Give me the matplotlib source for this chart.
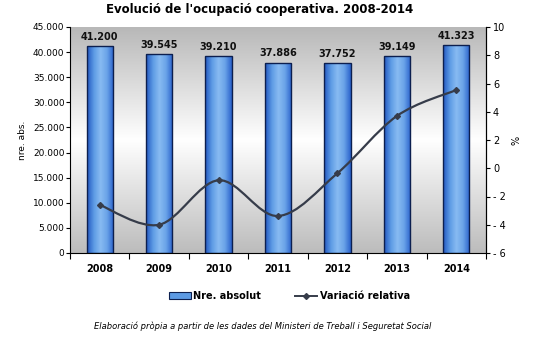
import numpy as np
import matplotlib
matplotlib.use("Agg")
import matplotlib.pyplot as plt
from matplotlib.path import Path
from matplotlib.patches import PathPatch, Patch
from matplotlib.lines import Line2D
from matplotlib.colors import LinearSegmentedColormap

years = ["2008", "2009", "2010", "2011", "2012", "2013", "2014"]
absolut = [41200, 39545, 39210, 37886, 37752, 39149, 41323]
variacio = [-2.6, -4.0, -0.85, -3.38, -0.35, 3.70, 5.54]

plt.rcParams["font.family"] = ["DejaVu Sans"]

fig = plt.figure(figsize=(5.36, 3.37), dpi=100)
fig.patch.set_facecolor("white")
ax = fig.add_axes([70 / 536, 84 / 337, 416 / 536, 226 / 337])
ax2 = ax.twinx()

x = np.arange(len(years))
ax.set_xlim(-0.5, len(years) - 0.5)
ax.set_ylim(0, 45000)
ax2.set_ylim(-6, 10)

# plot-area background: grey - white - grey vertical gradient
bg = LinearSegmentedColormap.from_list("bg", ["#b8b8b8", "#ffffff", "#bcbcbc"])
ax.imshow(np.linspace(0, 1, 256).reshape(-1, 1), cmap=bg, aspect="auto",
          extent=[-0.5, len(years) - 0.5, 0, 45000], zorder=0)

# bars with horizontal blue gradient
barcm = LinearSegmentedColormap.from_list(
    "bar", ["#2358c2", "#5c9ae4", "#88bbf2", "#6aa3e8", "#2a62cc"])
width = 0.44
bars = ax.bar(x, absolut, width=width, color="none", edgecolor="#0c1f4f",
              linewidth=1.0, zorder=3)
for b in bars:
    im = ax.imshow(np.linspace(0, 1, 64).reshape(1, -1), cmap=barcm, aspect="auto",
                   extent=[b.get_x(), b.get_x() + b.get_width(), 0, b.get_height()],
                   zorder=2)
    im.set_clip_path(b)
for xi, v in zip(x, absolut):
    ax.text(xi, v + 900, f"{v:,}".replace(",", "."), ha="center", va="bottom",
            fontsize=7, fontweight="bold", color="#111111")

# smoothed line (Catmull-Rom bezier through the data points)
ax2.set_zorder(ax.get_zorder() + 1)
ax2.patch.set_visible(False)
pts = np.column_stack([x, variacio]).astype(float)
ext = np.vstack([pts[0], pts, pts[-1]])
verts = [tuple(pts[0])]
codes = [Path.MOVETO]
for i in range(len(pts) - 1):
    p0, p1, p2, p3 = ext[i], ext[i + 1], ext[i + 2], ext[i + 3]
    c1 = p1 + (p2 - p0) / 6
    c2 = p2 - (p3 - p1) / 6
    verts += [tuple(c1), tuple(c2), tuple(p2)]
    codes += [Path.CURVE4] * 3
ax2.add_patch(PathPatch(Path(verts, codes), facecolor="none", edgecolor="#363c4a",
                        linewidth=1.6, zorder=4))
ax2.plot(x, variacio, linestyle="none", marker="D", markersize=3,
         color="#363c4a", zorder=5)

# axes styling
for a in (ax, ax2):
    a.spines["top"].set_visible(False)
ax.spines["left"].set_linewidth(0.8)
ax.spines["bottom"].set_linewidth(0.8)
ax2.spines["right"].set_linewidth(0.8)
ax2.spines["left"].set_visible(False)
ax2.spines["bottom"].set_visible(False)

ax.set_yticks(np.arange(0, 45001, 5000))
ax.set_yticklabels([f"{int(t):,}".replace(",", ".") for t in np.arange(0, 45001, 5000)])
ax.tick_params(axis="y", labelsize=6.5, length=3, width=0.8, pad=1)
ax2.set_yticks(np.arange(-6, 11, 2))
ax2.set_yticklabels([str(t).replace("-", "- ") for t in np.arange(-6, 11, 2)])
ax2.tick_params(axis="y", labelsize=7, length=3, width=0.8, pad=2)

ax.set_xticks(np.arange(-0.5, len(years), 1.0))
ax.set_xticklabels([])
ax.set_xticks(x, minor=True)
ax.set_xticklabels(years, minor=True, fontsize=7, fontweight="bold")
ax.tick_params(axis="x", which="major", length=4, width=0.8)
ax.tick_params(axis="x", which="minor", length=0, pad=8)

ax.set_ylabel("nre. abs.", fontsize=6.5, labelpad=4)
ax2.set_ylabel("%", fontsize=7, labelpad=4)

fig.text(0.485, 1 - 10 / 337, "Evolució de l'ocupació cooperativa. 2008-2014",
         ha="center", va="center", fontsize=8.5, fontweight="bold")

handles = [Patch(facecolor="#5c9ae4", edgecolor="#0c1f4f", linewidth=0.8),
           Line2D([0], [0], color="#363c4a", linewidth=1.4, marker="D", markersize=3)]
fig.legend(handles, ["Nre. absolut", "Variació relativa"], loc="center",
           bbox_to_anchor=(0.54, 1 - 296 / 337), ncol=2, frameon=False,
           prop={"size": 7, "weight": "bold"}, handlelength=2.2, handletextpad=0.3,
           columnspacing=3.5)

fig.text(0.49, 1 - 326 / 337,
         "Elaboració pròpia a partir de les dades del Ministeri de Treball i Seguretat Social",
         ha="center", va="center", fontsize=6, style="italic")

fig.savefig("out.png", dpi=100)
